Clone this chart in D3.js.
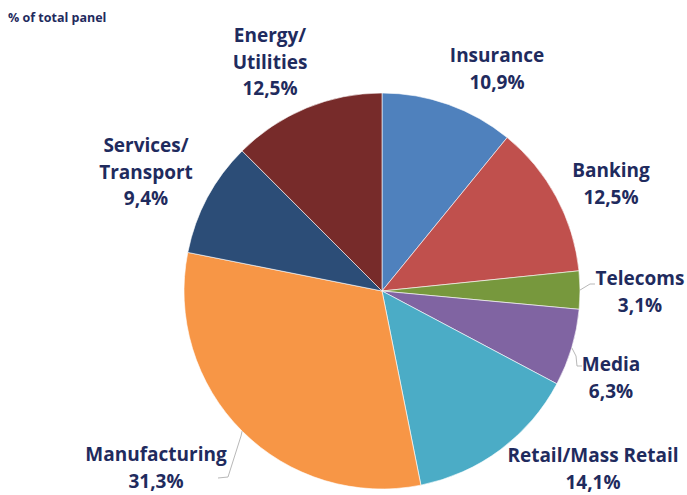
<!DOCTYPE html>
<html>
<head>
<meta charset="utf-8">
<script src="https://cdn.jsdelivr.net/npm/d3@7"></script>
<style>
  body { margin: 0; background: #fff; }
  text { font-family: "Open Sans", sans-serif; font-weight: bold; fill: #1f2b5e; }
</style>
</head>
<body>
<script>
const sectors = ["Insurance", "Banking", "Telecoms", "Media", "Retail/Mass Retail", "Manufacturing", "Services/Transport", "Energy/Utilities"];
const shares = [10.9, 12.5, 3.1, 6.3, 14.1, 31.3, 9.4, 12.5];
const shareLabels = ["10,9%", "12,5%", "3,1%", "6,3%", "14,1%", "31,3%", "9,4%", "12,5%"];
const labelLines = [["Insurance"], ["Banking"], ["Telecoms"], ["Media"], ["Retail/Mass Retail"], ["Manufacturing"], ["Services/", "Transport"], ["Energy/", "Utilities"]];
const colors = ["#4f81bd", "#c0504d", "#77983d", "#8064a2", "#4bacc6", "#f79646", "#2c4d77", "#772b2a"];

const width = 687, height = 495;
const cx = 382, cy = 291, radius = 198;

// label anchor (centre x, first line baseline y)
const labelPos = [
  [497, 62], [611, 177], [640, 285], [611, 371], [593, 462], [156, 461], [146, 152], [270, 42]
];

const data = sectors.map((s, i) => ({ sector: s, value: shares[i], label: shareLabels[i], lines: labelLines[i], color: colors[i], pos: labelPos[i] }));

const svg = d3.select("body").append("svg")
  .attr("width", width)
  .attr("height", height);

svg.append("text")
  .attr("x", 8)
  .attr("y", 22)
  .style("font-size", "12.5px")
  .text("% of total panel");

const pie = d3.pie().value(d => d.value).sort(null);
const arc = d3.arc().innerRadius(0).outerRadius(radius);

const g = svg.append("g").attr("transform", "translate(" + cx + "," + cy + ")");
g.selectAll("path")
  .data(pie(data))
  .enter()
  .append("path")
  .attr("d", arc)
  .attr("fill", d => d.data.color)
  .attr("stroke", "#ffffff")
  .attr("stroke-width", 0.6);

// leader lines (Telecoms, Media, Manufacturing)
const arcs = pie(data);
const leaders = [
  { i: 2, pts: [[595, 284], [590, 284]] },
  { i: 3, pts: [[582, 366], [577, 366], [576, 356]] },
  { i: 5, pts: [[218, 478], [228, 477], [241, 436]] }
];
leaders.forEach(l => {
  const a = arcs[l.i];
  const mid = (a.startAngle + a.endAngle) / 2;
  const edge = [cx + Math.sin(mid) * radius, cy - Math.cos(mid) * radius];
  svg.append("path")
    .attr("d", d3.line()(l.pts.concat([edge])))
    .attr("fill", "none")
    .attr("stroke", "#b8b8b8")
    .attr("stroke-width", 1);
});

const labels = svg.selectAll("g.lbl")
  .data(data)
  .enter()
  .append("g")
  .attr("class", "lbl");

labels.each(function(d) {
  const t = d3.select(this).append("text")
    .attr("text-anchor", "middle")
    .style("font-size", "19px");
  d.lines.concat([d.label]).forEach((line, k) => {
    t.append("tspan")
      .attr("x", d.pos[0])
      .attr("y", d.pos[1] + k * 26.5)
      .text(line);
  });
});
</script>
</body>
</html>
